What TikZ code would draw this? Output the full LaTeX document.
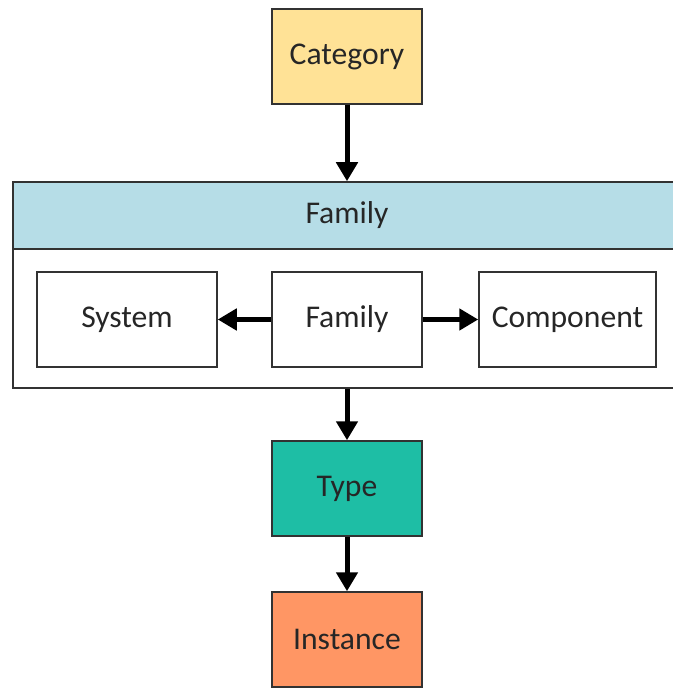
\documentclass[tikz,border=0pt]{standalone}
\usepackage{fontspec}
\setmainfont{Carlito}
\usetikzlibrary{arrows.meta,positioning}
\definecolor{catfill}{RGB}{255,226,150}
\definecolor{famfill}{RGB}{182,221,231}
\definecolor{typefill}{RGB}{30,190,165}
\definecolor{instfill}{RGB}{255,150,100}
\definecolor{edgegray}{RGB}{50,50,50}
\definecolor{textgray}{RGB}{38,38,38}

\begin{document}
\begin{tikzpicture}[
    every node/.style={rectangle, draw=edgegray, line width=0.03cm,
        text centered, text=textgray, font=\fontsize{18}{21}\selectfont},
    level/.style={minimum width=3.0cm, minimum height=1.9cm},
    member/.style={minimum height=1.9cm, fill=white},
    arr/.style={-{Triangle[length=0.38cm, width=0.42cm]}, line width=0.1cm, black},
]
\useasboundingbox (0,0) rectangle (13.44,-13.78);

% Top: Category
\node[level, fill=catfill] (cat) at (6.94, -1.13) {Category};

% Family group (runs past the right edge)
\node[minimum width=13.36cm, minimum height=4.12cm, fill=white] (famgroup) at (6.94, -5.70) {};
\node[minimum width=13.36cm, minimum height=1.34cm, fill=famfill] (famhead) at (6.94, -4.31) {Family};

% Inside the group
\node[member, minimum width=3.6cm]  (sys)  at ( 2.54, -6.39) {System};
\node[member, minimum width=3.0cm]  (fam)  at ( 6.94, -6.39) {Family};
\node[member, minimum width=3.54cm] (comp) at (11.35, -6.39) {Component};

% Bottom: Type and Instance
\node[level, fill=typefill] (type) at (6.94, -9.77) {Type};
\node[level, fill=instfill] (inst) at (6.94, -12.79) {Instance};

% Arrows
\draw[arr] (cat) -- (cat |- famhead.north);
\draw[arr] (fam) -- (sys);
\draw[arr] (fam) -- (comp);
\draw[arr] (famgroup.south -| type) -- (type);
\draw[arr] (type) -- (inst);

\end{tikzpicture}
\end{document}
